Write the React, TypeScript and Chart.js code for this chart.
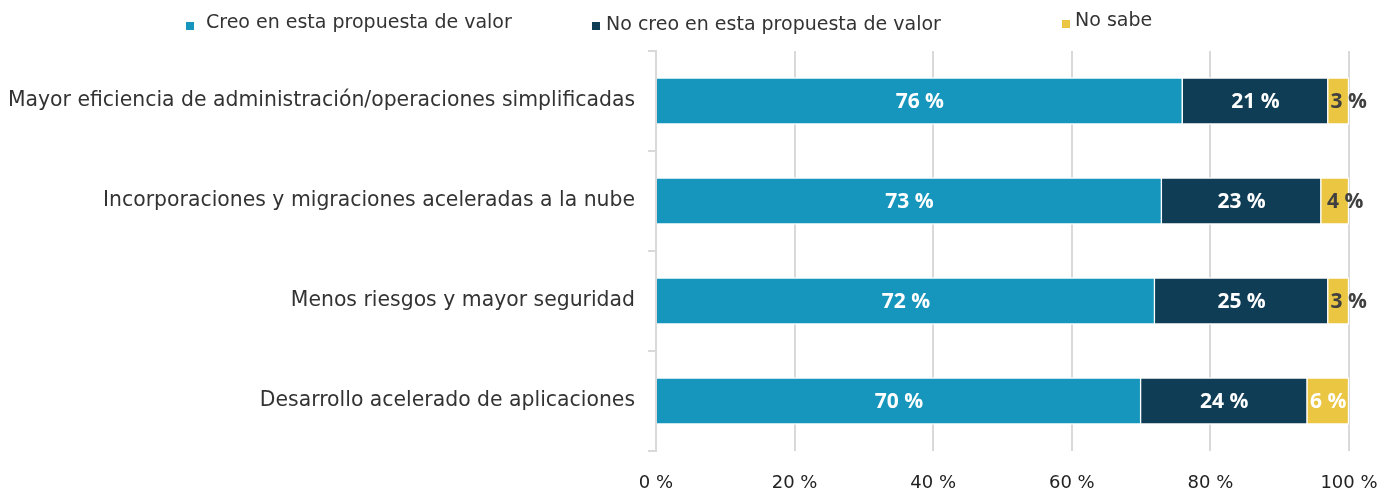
import React, { useEffect, useRef } from "react";
import { Chart, registerables } from "chart.js";

Chart.register(...registerables);

const categories = [
  "Mayor eficiencia de administración/operaciones simplificadas",
  "Incorporaciones y migraciones aceleradas a la nube",
  "Menos riesgos y mayor seguridad",
  "Desarrollo acelerado de aplicaciones",
];
const seriesNames = [
  "Creo en esta propuesta de valor",
  "No creo en esta propuesta de valor",
  "No sabe",
];
const creo = [76, 73, 72, 70];
const noCreo = [21, 23, 25, 24];
const noSabe = [3, 4, 3, 6];
const xTickValues = [0, 20, 40, 60, 80, 100];

const COLORS = ["#1696BC", "#0E3D55", "#EAC643"];
const LABEL_COLORS = [
  ["#fff", "#fff", "#fff", "#fff"],
  ["#fff", "#fff", "#fff", "#fff"],
  ["#404040", "#404040", "#404040", "#fff"],
];
const FONT = '"DejaVu Sans", "Open Sans", sans-serif';
const LABEL_FONT = '"Liberation Sans Narrow", "Open Sans", sans-serif';

const legendPos = [
  { bx: 178, by: 14, tx: 198, ty: 15 },
  { bx: 584, by: 14, tx: 598, ty: 17 },
  { bx: 1054, by: 12, tx: 1067, ty: 13 },
];

const customPlugin = {
  id: "custom",
  afterDatasetsDraw(chart: any) {
    const ctx = chart.ctx;
    ctx.save();
    chart.data.datasets.forEach((ds: any, di: number) => {
      const meta = chart.getDatasetMeta(di);
      meta.data.forEach((el: any, i: number) => {
        const cx = (el.x + el.base) / 2;
        ctx.fillStyle = LABEL_COLORS[di][i];
        ctx.font = `bold 21px ${LABEL_FONT}`;
        ctx.textAlign = "center";
        ctx.textBaseline = "middle";
        ctx.fillText(`${ds.data[i]} %`, cx + (di === 2 && i < 3 ? 10 : 0), el.y + 1);
      });
    });
    // legend
    seriesNames.forEach((name, i) => {
      const p = legendPos[i];
      ctx.fillStyle = COLORS[i];
      ctx.fillRect(p.bx, p.by, 8, 8);
      ctx.fillStyle = "#333";
      ctx.font = `19px ${FONT}`;
      ctx.textAlign = "left";
      ctx.textBaseline = "middle";
      ctx.fillText(name, p.tx, p.ty);
    });
    ctx.restore();
  },
};

export default function App() {
  const ref = useRef<HTMLCanvasElement>(null);
  useEffect(() => {
    if (!ref.current) return;
    const chart = new Chart(ref.current, {
      type: "bar",
      data: {
        labels: categories,
        datasets: [creo, noCreo, noSabe].map((d, i) => ({
          label: seriesNames[i],
          data: d,
          backgroundColor: COLORS[i],
          borderColor: "#ffffff",
          borderWidth: 1.5,
          barThickness: 47,
        })),
      },
      options: {
        indexAxis: "y",
        animation: false,
        responsive: true,
        maintainAspectRatio: false,
        layout: { padding: { top: 43, right: 29, left: 0, bottom: 0 } },
        plugins: { legend: { display: false }, tooltip: { enabled: false } },
        scales: {
          x: {
            stacked: true,
            min: 0,
            max: 100,
            afterBuildTicks: (scale: any) => {
              scale.ticks = xTickValues.map((v) => ({ value: v }));
            },
            afterFit: (scale: any) => {
              scale.height = 39;
              scale.paddingRight = 0;
              scale.paddingLeft = 0;
            },
            grid: { color: "#D9D9D9", lineWidth: 2, drawTicks: false },
            border: { display: false },
            ticks: {
              padding: 22,
              color: "#222",
              font: { family: FONT, size: 18 },
              callback: (v: any) => `${v} %`,
            },
          },
          y: {
            stacked: true,
            afterFit: (scale: any) => {
              scale.width = 648;
            },
            grid: {
              display: true,
              drawOnChartArea: false,
              drawTicks: true,
              tickLength: 8,
              offset: true,
              color: "#D9D9D9",
              lineWidth: 2,
            },
            border: { display: true, color: "#D9D9D9", width: 2 },
            ticks: {
              padding: 13,
              color: "#333",
              font: { family: FONT, size: 20.4 },
            },
          },
        },
      },
      plugins: [customPlugin],
    });
    return () => chart.destroy();
  }, []);
  return (
    <div style={{ width: 1370, height: 482, position: "relative" }}>
      <canvas ref={ref} />
    </div>
  );
}
